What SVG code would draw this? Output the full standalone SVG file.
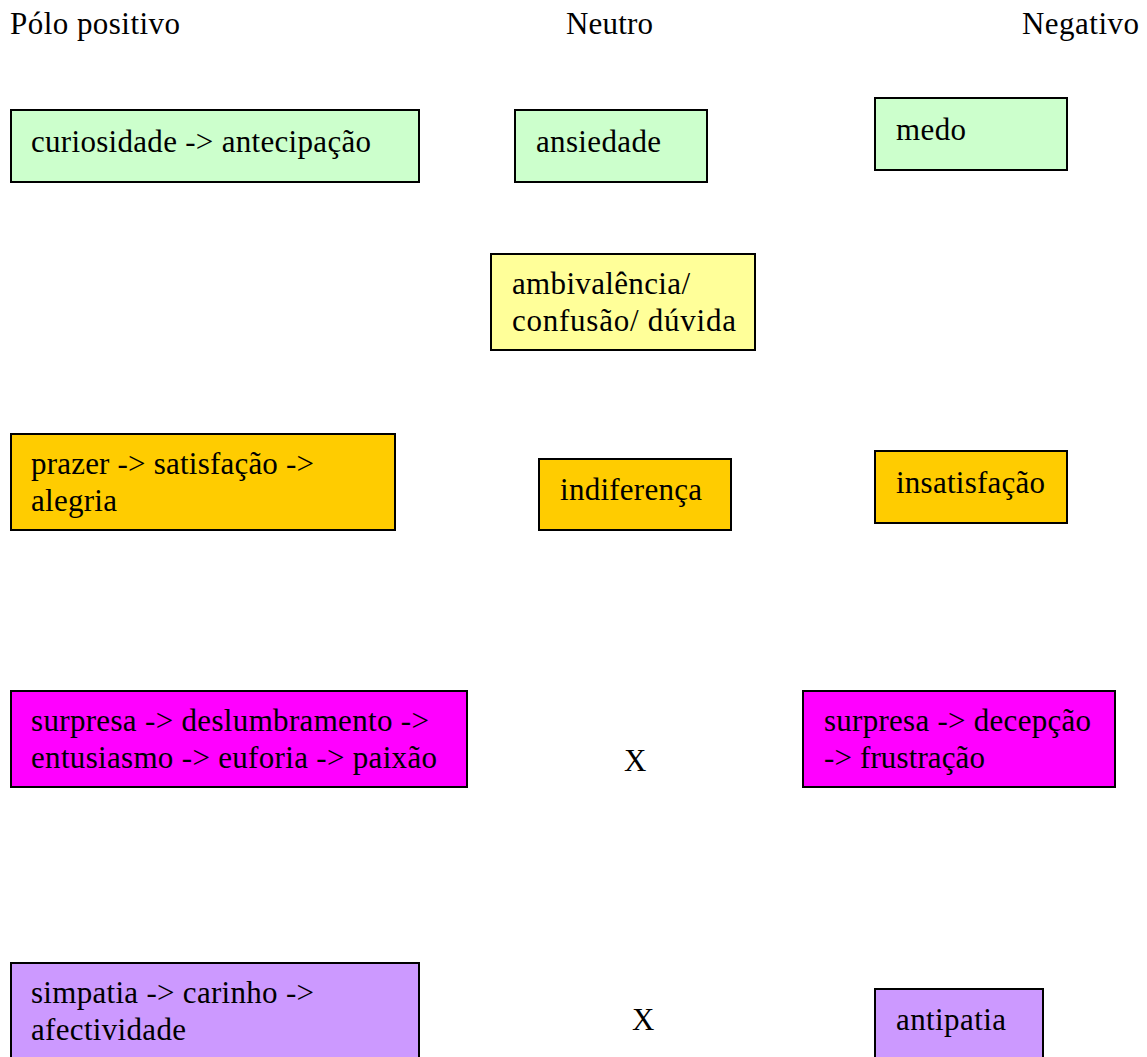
<svg xmlns="http://www.w3.org/2000/svg" width="1147" height="1057" viewBox="0 0 1147 1057">
<style>
.box{stroke:#000;stroke-width:2}
.green{fill:#CCFFCC}.yellow{fill:#FFFF99}.orange{fill:#FFCC00}.magenta{fill:#FF00FF}.purple{fill:#CC99FF}
</style>
<rect width="1147" height="1057" fill="#fff"/>
<g font-family="'Liberation Serif', 'DejaVu Serif', serif" font-size="31" fill="#000" lengthAdjust="spacing">
<g id="headers">
<text x="10" y="34" textLength="170" lengthAdjust="spacing">Pólo positivo</text>
<text x="566" y="34" textLength="87" lengthAdjust="spacing">Neutro</text>
<text x="1022" y="34" textLength="117" lengthAdjust="spacing">Negativo</text>
</g>
<g id="connectors"></g>
<g id="n-curiosidade"><rect class="box green" x="11" y="110" width="408" height="72"/><text x="31" y="152" textLength="340" lengthAdjust="spacing">curiosidade -&gt; antecipação</text></g>
<g id="n-ansiedade"><rect class="box green" x="515" y="110" width="192" height="72"/><text x="536" y="152" textLength="125" lengthAdjust="spacing">ansiedade</text></g>
<g id="n-medo"><rect class="box green" x="875" y="98" width="192" height="72"/><text x="896" y="140" textLength="70" lengthAdjust="spacing">medo</text></g>
<g id="n-ambivalencia"><rect class="box yellow" x="491" y="254" width="264" height="96"/><text x="512" y="294" textLength="178" lengthAdjust="spacing">ambivalência/</text><text x="512" y="330.5" textLength="224" lengthAdjust="spacing">confusão/ dúvida</text></g>
<g id="n-prazer"><rect class="box orange" x="11" y="434" width="384" height="96"/><text x="31" y="474" textLength="283" lengthAdjust="spacing">prazer -&gt; satisfação -&gt;</text><text x="31" y="510.5" textLength="86" lengthAdjust="spacing">alegria</text></g>
<g id="n-indiferenca"><rect class="box orange" x="539" y="459" width="192" height="71"/><text x="560" y="500" textLength="142" lengthAdjust="spacing">indiferença</text></g>
<g id="n-insatisfacao"><rect class="box orange" x="875" y="451" width="192" height="72"/><text x="896" y="493" textLength="149" lengthAdjust="spacing">insatisfação</text></g>
<g id="n-surpresa-pos"><rect class="box magenta" x="11" y="691" width="456" height="96"/><text x="31" y="731" textLength="398" lengthAdjust="spacing">surpresa -&gt; deslumbramento -&gt;</text><text x="31" y="767.5" textLength="406" lengthAdjust="spacing">entusiasmo -&gt; euforia -&gt; paixão</text></g>
<g id="x1"><text x="624" y="771">X</text></g>
<g id="n-surpresa-neg"><rect class="box magenta" x="803" y="691" width="312" height="96"/><text x="824" y="731" textLength="267" lengthAdjust="spacing">surpresa -&gt; decepção</text><text x="824" y="767.5" textLength="161" lengthAdjust="spacing">-&gt; frustração</text></g>
<g id="n-simpatia"><rect class="box purple" x="11" y="963" width="408" height="100"/><text x="31" y="1003" textLength="283" lengthAdjust="spacing">simpatia -&gt; carinho -&gt;</text><text x="31" y="1039.5" textLength="155" lengthAdjust="spacing">afectividade</text></g>
<g id="x2"><text x="632" y="1030">X</text></g>
<g id="n-antipatia"><rect class="box purple" x="875" y="989" width="168" height="74"/><text x="896" y="1030" textLength="110" lengthAdjust="spacing">antipatia</text></g>
</g>
</svg>
